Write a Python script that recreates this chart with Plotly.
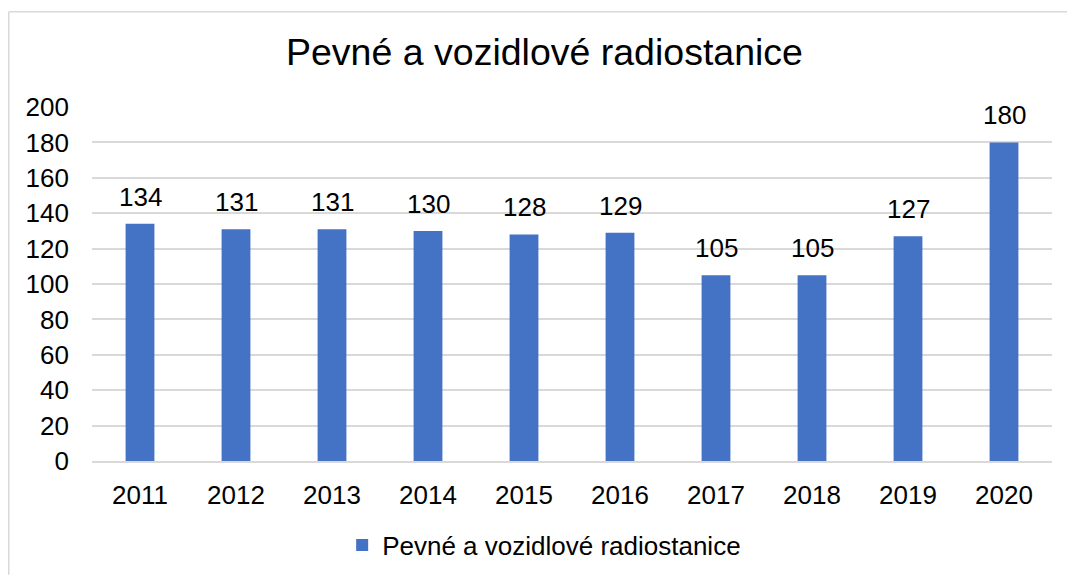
import plotly.graph_objects as go

years = ["2011", "2012", "2013", "2014", "2015", "2016", "2017", "2018", "2019", "2020"]
values = [134, 131, 131, 130, 128, 129, 105, 105, 127, 180]
series_name = "Pevné a vozidlové radiostanice"
title_text = "Pevné a vozidlové radiostanice"
y_ticks = [0, 20, 40, 60, 80, 100, 120, 140, 160, 180, 200]

FONT = "Liberation Sans, Arial, sans-serif"
W, H = 1067, 581
PL, PR, PT, PB = 92, 1052, 107, 465

fig = go.Figure()
fig.add_trace(go.Bar(
    x=years, y=values, name=series_name,
    marker=dict(color="#4472C4", line=dict(width=0)),
    cliponaxis=False, showlegend=True,
))

for i, v in enumerate(values):
    fig.add_annotation(x=i, y=v, xref="x", yref="y", text=str(v), showarrow=False,
                       yanchor="bottom", yshift=10,
                       font=dict(size=26, color="#000000", family=FONT))

pw, ph = PR - PL, PB - PT
border = dict(color="#d9d9d9", width=1.5)
fig.update_layout(
    width=W, height=H,
    paper_bgcolor="white", plot_bgcolor="white",
    margin=dict(l=PL, r=W - PR, t=PT, b=H - PB),
    bargap=0.7,
    font=dict(family=FONT, color="#000000", size=26),
    title=dict(text=title_text, x=544.5 / W, xanchor="center", y=1 - 52 / H, yanchor="middle",
               font=dict(size=37.5, color="#000000", family=FONT)),
    legend=dict(orientation="h", x=0.471, xanchor="center", y=(PB - 550) / ph, yanchor="middle",
                font=dict(size=26, color="#000000", family=FONT)),
    xaxis=dict(type="category", showgrid=False, showline=True, linecolor="#d9d9d9", linewidth=1.5,
               ticks="", tickfont=dict(size=26), ticklabelstandoff=10),
    yaxis=dict(range=[0, 200], tickvals=y_ticks, showgrid=True, gridcolor="#d9d9d9", gridwidth=1.5,
               zeroline=False, showline=False, ticks="", tickfont=dict(size=26),
               ticklabelstandoff=22),
    shapes=[
        dict(type="line", xref="paper", yref="paper",
             x0=(8.75 - PL) / pw, x1=(W - PL) / pw, y0=(PB - 10.75) / ph, y1=(PB - 10.75) / ph,
             line=border, layer="below"),
        dict(type="line", xref="paper", yref="paper",
             x0=(8.75 - PL) / pw, x1=(8.75 - PL) / pw, y0=(PB - 10.75) / ph, y1=(PB - 580) / ph,
             line=border, layer="below"),
    ],
)

post = ("document.documentElement.style.margin='0';document.body.style.margin='0';"
        "var gd=document.getElementById('{plot_id}');gd.style.position='fixed';"
        "gd.style.left='0px';gd.style.top='0px';")
fig.write_html("out.html", config={"displayModeBar": False}, post_script=post)
